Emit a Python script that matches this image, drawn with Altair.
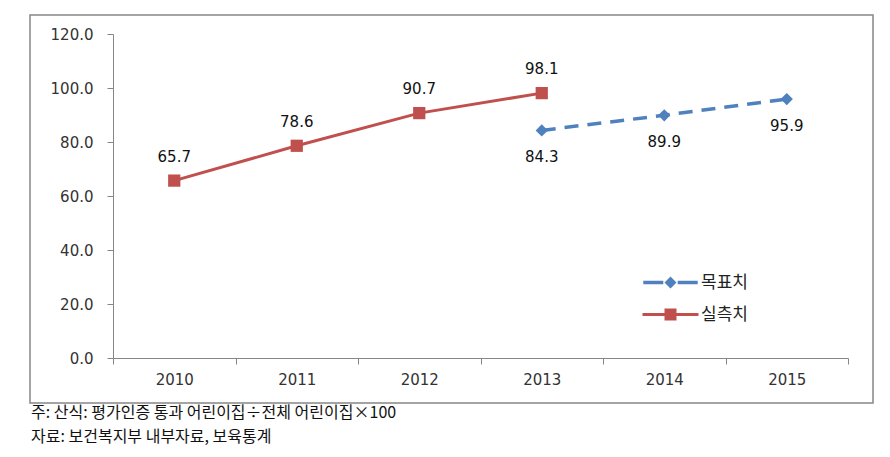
import altair as alt
import pandas as pd

years = ["2010", "2011", "2012", "2013", "2014", "2015"]
actual_years = ["2010", "2011", "2012", "2013"]
actual_values = [65.7, 78.6, 90.7, 98.1]
target_years = ["2013", "2014", "2015"]
target_values = [84.3, 89.9, 95.9]
series_names = ["목표치", "실측치"]
y_ticks = [0, 20, 40, 60, 80, 100, 120]
notes = ["주: 산식: 평가인증 통과 어린이집÷전체 어린이집×100",
         "자료: 보건복지부 내부자료, 보육통계"]

BLUE = "#4F81BD"
RED = "#C0504D"
GREY = "#868686"
FONT = "DejaVu Sans"
KFONT = "Noto Sans CJK KR"

df = pd.DataFrame({
    "year": actual_years + target_years,
    "value": actual_values + target_values,
    "series": ["실측치"] * len(actual_years) + ["목표치"] * len(target_years),
})

x = alt.X("year:O",
          scale=alt.Scale(type="band", domain=years, paddingInner=0, paddingOuter=0),
          axis=alt.Axis(title=None, labelAngle=0, tickBand="extent", domainColor=GREY,
                        tickColor=GREY, tickSize=6, labelPadding=8, labelFont=FONT,
                        labelFontSize=15, labelColor="#333333", grid=False))
y = alt.Y("value:Q",
          scale=alt.Scale(domain=[0, 120], nice=False, zero=True),
          axis=alt.Axis(title=None, values=y_ticks, format=".1f", domainColor=GREY,
                        tickColor=GREY, tickSize=6, labelPadding=14, labelFont=FONT,
                        labelFontSize=15, labelColor="#333333", grid=False))

base = alt.Chart(df)
actual = base.transform_filter(alt.datum.series == "실측치")
target = base.transform_filter(alt.datum.series == "목표치")

red_line = actual.mark_line(color=RED, strokeWidth=3).encode(x=x, y=y)
red_pts = actual.mark_point(shape="square", filled=True, color=RED, size=150, opacity=1).encode(x=x, y=y)
red_txt = actual.mark_text(dy=-24, font=FONT, fontSize=15, color="#111111").encode(
    x=x, y=y, text=alt.Text("value:Q", format=".1f"))

blue_line = target.mark_line(color=BLUE, strokeWidth=3.5, strokeDash=[14, 9]).encode(x=x, y=y)
blue_pts = target.mark_point(shape="diamond", filled=True, color=BLUE, size=150, opacity=1).encode(x=x, y=y)
blue_txt = target.mark_text(dy=27, font=FONT, fontSize=15, color="#111111").encode(
    x=x, y=y, text=alt.Text("value:Q", format=".1f"))

blue_path = ("M-3.4,-0.22L-0.9,-0.22L-0.9,0.22L-3.4,0.22Z "
             "M0.9,-0.22L3.4,-0.22L3.4,0.22L0.9,0.22Z "
             "M0,-0.75L0.75,0L0,0.75L-0.75,0Z")
red_path = ("M-3.5,-0.2L3.5,-0.2L3.5,0.2L-3.5,0.2Z "
            "M-0.75,-0.75L0.75,-0.75L0.75,0.75L-0.75,0.75Z")

leg = alt.Legend(title=None, orient="none", legendX=549, legendY=240, symbolSize=256,
                 labelOffset=22, labelFont=KFONT, labelFontSize=17, labelColor="#222222",
                 rowPadding=14, symbolStrokeWidth=0, symbolOpacity=1, padding=0)
legend_layer = base.transform_filter(alt.datum.value < 0).mark_point(filled=True).encode(
    x=x, y=y,
    color=alt.Color("series:N", scale=alt.Scale(domain=series_names, range=[BLUE, RED]), legend=leg),
    shape=alt.Shape("series:N", scale=alt.Scale(domain=series_names, range=[blue_path, red_path]), legend=leg),
)

one = pd.DataFrame({"k": [0]})
border = alt.Chart(one).mark_rect(fill="transparent", stroke=GREY, strokeWidth=1.5).encode(
    x=alt.value(-83), x2=alt.value(760), y=alt.value(-19), y2=alt.value(369))

note_layers = []
for i, t in enumerate(notes):
    note_layers.append(
        alt.Chart(one).mark_text(text=t, align="left", baseline="middle", font=KFONT,
                                 fontSize=16, color="#111111").encode(
            x=alt.value(-82), y=alt.value(379 + 24 * i)))

chart = alt.layer(border, red_line, blue_line, red_pts, blue_pts, red_txt, blue_txt,
                  legend_layer, *note_layers).properties(
    width=735, height=324,
    autosize=alt.AutoSizeParams(type="none"),
    padding={"left": 105, "top": 26, "right": 27, "bottom": 90},
    background="white",
).configure_view(stroke="transparent")

chart.save("out.html", embed_options={"renderer": "svg", "actions": False})
